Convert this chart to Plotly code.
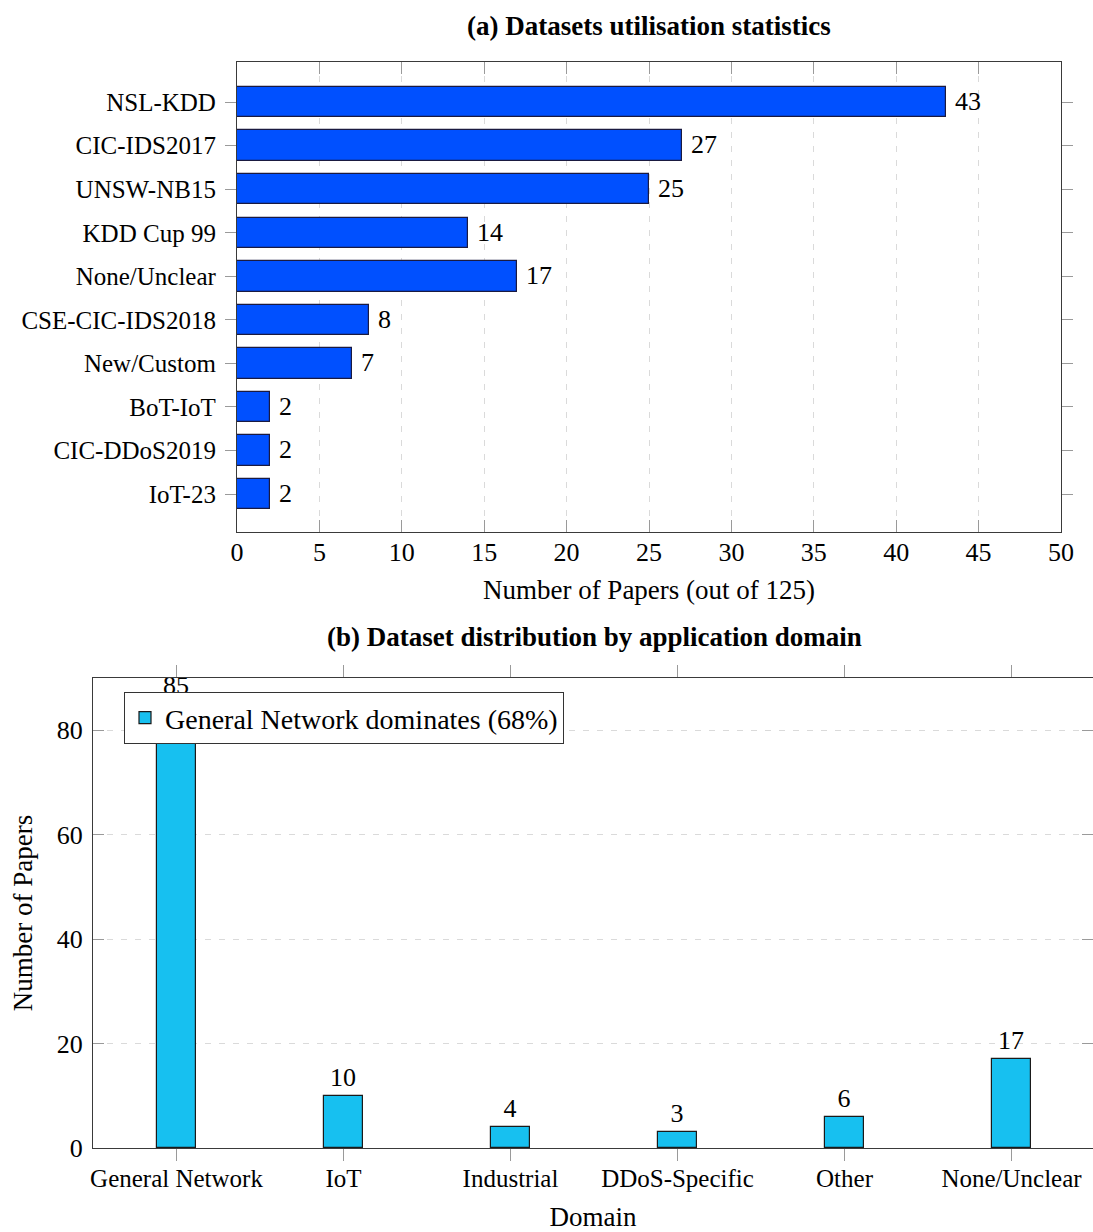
import plotly.graph_objects as go

# ---- Data ----
datasets = ["NSL-KDD", "CIC-IDS2017", "UNSW-NB15", "KDD Cup 99", "None/Unclear",
            "CSE-CIC-IDS2018", "New/Custom", "BoT-IoT", "CIC-DDoS2019", "IoT-23"]
dataset_papers = [43, 27, 25, 14, 17, 8, 7, 2, 2, 2]

domains = ["General Network", "IoT", "Industrial", "DDoS-Specific", "Other", "None/Unclear"]
domain_papers = [85, 10, 4, 3, 6, 17]

x_ticks_a = [0, 5, 10, 15, 20, 25, 30, 35, 40, 45, 50]
y_ticks_b = [0, 20, 40, 60, 80]

W, H = 1093, 1232
FONT = "Liberation Serif"
FS = 25
TFS = 27
AXC = "#3a3a3a"
TICKC = "#9a9a9a"
GRIDC = "#dadada"

fig = go.Figure()

fig.add_trace(go.Bar(
    x=dataset_papers, y=datasets, orientation="h",
    marker=dict(color="#0050FF", line=dict(color="#1a1a40", width=1.2)),
    width=0.7, text=dataset_papers, texttemplate=" %{text}", textposition="outside",
    cliponaxis=False, constraintext="none",
    textfont=dict(family=FONT, size=FS + 1, color="black"),
    showlegend=False, xaxis="x", yaxis="y",
))

fig.add_trace(go.Bar(
    x=domains, y=domain_papers,
    marker=dict(color="#17C0F0", line=dict(color="#1a1a1a", width=1.2)),
    width=0.23, text=domain_papers, textposition="outside",
    cliponaxis=False, constraintext="none",
    textfont=dict(family=FONT, size=FS + 1, color="black"),
    name="General Network dominates (68%)", showlegend=True,
    xaxis="x2", yaxis="y2",
))

def px_x(p):
    return p / W

def px_y(p):
    return 1 - p / H

fig.update_layout(
    width=W, height=H,
    margin=dict(l=0, r=0, t=0, b=0, autoexpand=False),
    paper_bgcolor="white", plot_bgcolor="white",
    font=dict(family=FONT, size=FS, color="black"),
    bargap=0,
    xaxis=dict(
        domain=[px_x(237), px_x(1061)], anchor="y", automargin=False,
        range=[0, 50], tickvals=x_ticks_a,
        showline=True, linecolor=AXC, linewidth=1.2, mirror="ticks",
        ticks="inside", ticklen=12, tickcolor=TICKC, tickwidth=1,
        showgrid=True, gridcolor=GRIDC, griddash="6px,8px", gridwidth=1,
        zeroline=False, ticklabelstandoff=-3,
        tickfont=dict(family=FONT, size=FS + 1),
        title=dict(text="Number of Papers (out of 125)", standoff=13,
                   font=dict(family=FONT, size=TFS)),
    ),
    yaxis=dict(
        domain=[px_y(532), px_y(62)], anchor="x", automargin=False,
        type="category", categoryorder="array", categoryarray=datasets,
        range=[9.87, -0.92],
        showline=True, linecolor=AXC, linewidth=1.2, mirror="ticks",
        ticks="outside", ticklen=11, tickcolor=TICKC, tickwidth=1,
        showgrid=False, zeroline=False, ticklabelstandoff=4,
        tickfont=dict(family=FONT, size=FS),
    ),
    xaxis2=dict(
        domain=[px_x(93), 1.0], anchor="y2", automargin=False,
        type="category", categoryorder="array", categoryarray=domains,
        range=[-0.5, 5.488],
        showline=True, linecolor=AXC, linewidth=1.2, mirror="ticks",
        ticks="outside", ticklen=12, tickcolor=TICKC, tickwidth=1,
        showgrid=False, zeroline=False, ticklabelstandoff=-4,
        tickfont=dict(family=FONT, size=FS),
        title=dict(text="Domain", standoff=20, font=dict(family=FONT, size=TFS)),
    ),
    yaxis2=dict(
        domain=[px_y(1148), px_y(678)], anchor="x2", automargin=False,
        range=[0, 90], tickvals=y_ticks_b,
        showline=True, linecolor=AXC, linewidth=1.2, mirror="ticks",
        ticks="inside", ticklen=11, tickcolor=TICKC, tickwidth=1,
        showgrid=True, gridcolor=GRIDC, griddash="6px,8px", gridwidth=1,
        zeroline=False, ticklabelstandoff=4,
        tickfont=dict(family=FONT, size=FS + 1),
        title=dict(text="Number of Papers", standoff=16, font=dict(family=FONT, size=TFS)),
    ),
    legend=dict(
        x=px_x(124), y=px_y(692), xanchor="left", yanchor="top",
        bgcolor="white", bordercolor="#333333", borderwidth=1,
        font=dict(family=FONT, size=TFS + 1), itemwidth=30,
    ),
    annotations=[
        dict(text="<b>(a) Datasets utilisation statistics</b>", xref="paper", yref="paper",
             x=px_x(649), y=px_y(26), xanchor="center", yanchor="middle",
             showarrow=False, font=dict(family=FONT, size=TFS)),
        dict(text="<b>(b) Dataset distribution by application domain</b>", xref="paper", yref="paper",
             x=px_x(594), y=px_y(637), xanchor="center", yanchor="middle",
             showarrow=False, font=dict(family=FONT, size=TFS)),
    ],
)

fig.write_html("out.html")
